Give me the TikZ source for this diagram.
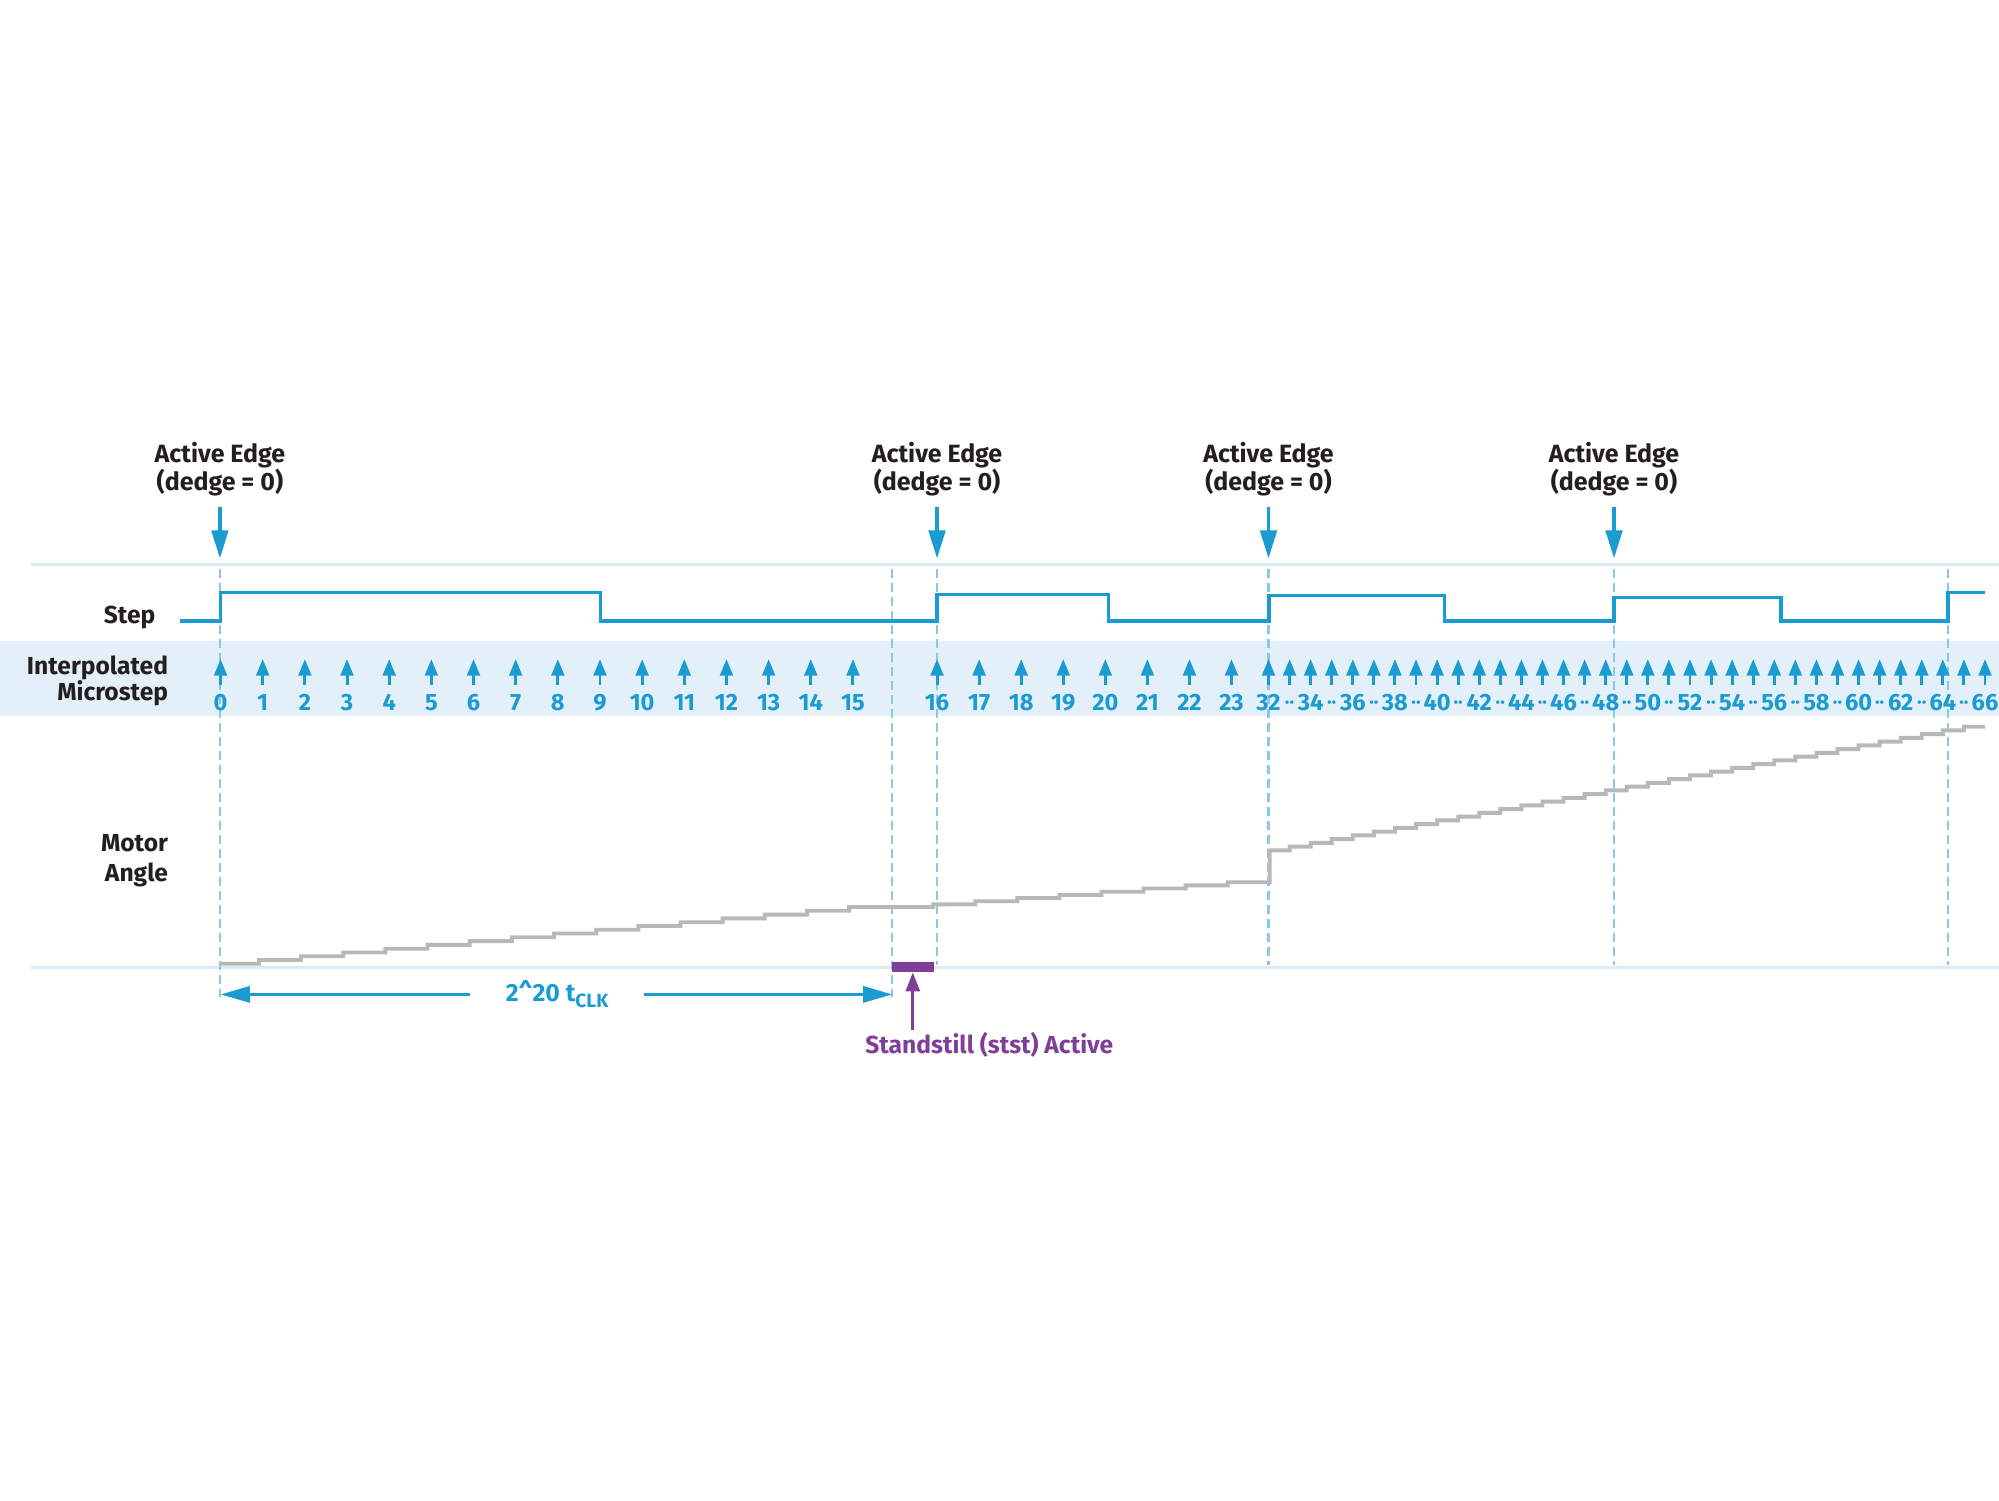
\documentclass[tikz,border=0pt]{standalone}
\usepackage{fontspec}
\setmainfont{Fira Sans}
\usetikzlibrary{arrows.meta}
\definecolor{wblue}{HTML}{1A9BD1}
\definecolor{sepc}{HTML}{DCEAF3}
\definecolor{bandc}{HTML}{E3EFF9}
\definecolor{dashc}{HTML}{8CC8E2}
\definecolor{stairc}{HTML}{B8B8B8}
\definecolor{purp}{HTML}{7F3F98}
\definecolor{txt}{HTML}{231F20}
\begin{document}
\begin{tikzpicture}[x=1pt,y=-1pt,
 txtlbl/.style={font=\fontsize{19.3}{20.5}\selectfont\bfseries, text=txt, inner sep=0pt},
 num/.style={font=\fontsize{18.5}{19}\selectfont\bfseries, text=wblue, inner sep=0pt, anchor=base},
 dotlbl/.style={font=\fontsize{15}{15}\selectfont\bfseries, text=wblue, inner sep=0pt, anchor=base},
 sep/.style={draw=sepc, line width=2pt},
 vdash/.style={draw=dashc, line width=1.6pt, dash pattern=on 7pt off 4pt},
 wave/.style={draw=wblue, line width=2.6pt, line join=miter},
 stair/.style={draw=stairc, line width=3pt},
 edgearrow/.style={draw=wblue, line width=2.6pt, -{Triangle[length=22pt,width=13pt]}},
 microarrow/.style={draw=wblue, line width=2.3pt, -{Triangle[length=13pt,width=10pt]}},
 timearrow/.style={draw=wblue, line width=2.6pt, -{Triangle[length=23pt,width=12.5pt]}},
 purparrow/.style={draw=purp, line width=2.4pt, -{Triangle[length=15pt,width=11pt]}},
]
\useasboundingbox (0,0) rectangle (1568,1177);
\fill[white] (0,0) rectangle (1568,1177);

% band and separators
\fill[bandc] (0,503) rectangle (1568,562);
\draw[sep] (24,443) -- (1568,443);
\draw[sep] (24,759) -- (1568,759);

% dashed guide lines
\draw[vdash] (172.5,446) -- (172.5,782);
\draw[vdash] (700,446) -- (700,782);
\foreach \xx in {735,995,1266,1528} {\draw[vdash] (\xx,446) -- (\xx,757);}

% row labels
\node[txtlbl, anchor=base east] (lstep) at (122,489) {Step};
\node[txtlbl, anchor=east, align=right] (lmicro) at (132,534) {Interpolated\\Microstep};
\node[txtlbl, anchor=east, align=right, font=\fontsize{19.3}{24}\selectfont\bfseries] (lmotor) at (132,675) {Motor\\Angle};

% active edge labels and arrows
\foreach \k/\xx in {1/172.5,2/735,3/995,4/1266} {
  \node[txtlbl, align=center, font=\fontsize{19.6}{19.5}\selectfont\bfseries] (ae\k) at (\xx,368) {Active Edge\\(dedge = 0)};
  \coordinate (at\k) at (\xx,438);
  \draw[edgearrow, shorten <=8pt] (ae\k.south) -- (at\k);
}

% step waveform
\draw[wave] (141,487) -- (173,487) -- (173,464.5) -- (471,464.5) -- (471,487) -- (735,487)
  -- (735,466.5) -- (869.5,466.5) -- (869.5,487) -- (995.5,487) -- (995.5,467) -- (1133,467)
  -- (1133,487) -- (1266,487) -- (1266,468.5) -- (1397,468.5) -- (1397,487) -- (1528,487)
  -- (1528,464.5) -- (1557,464.5);

% microstep arrows and numbers
\foreach \i in {0,...,15} {
  \pgfmathsetmacro\xx{173+33.07*\i}
  \draw[microarrow] (\xx,537) -- (\xx,517);
  \node[num] (m\i) at (\xx,557.5) {\i};
}
\foreach \i in {16,...,23} {
  \pgfmathsetmacro\xx{735+33*(\i-16)}
  \draw[microarrow] (\xx,537) -- (\xx,517);
  \node[num] (m\i) at (\xx,557.5) {\i};
}
\foreach \i in {32,...,66} {
  \pgfmathsetmacro\xx{995+16.53*(\i-32)}
  \draw[microarrow] (\xx,537) -- (\xx,517);
  \ifodd\i\relax
    \node[dotlbl] (m\i) at (\xx,555.5) {··};
  \else
    \node[num] (m\i) at (\xx,557.5) {\i};
  \fi
}

% motor angle staircase
\draw[stair] (173,756)
  \foreach \i in {1,...,15} { -- ({173+33.07*\i-3},{756-2.97*(\i-1)}) -- ({173+33.07*\i-3},{756-2.97*\i}) }
  -- (732,711.45) -- (732,709.4)
  \foreach \i in {17,...,23} { -- ({732+33*(\i-16)},{709.4-2.486*(\i-17)}) -- ({732+33*(\i-16)},{709.4-2.486*(\i-16)}) }
  -- (996,692) -- (996,667)
  \foreach \i in {33,...,65} { -- ({995+16.53*(\i-32)},{667-2.94*(\i-33)}) -- ({995+16.53*(\i-32)},{667-2.94*(\i-32)}) }
  -- (1557,570);

% standstill bar and arrow
\node[fill=purp, minimum width=33pt, minimum height=8pt, inner sep=0pt] (bar) at (716.5,758.5) {};
\node[font=\fontsize{19.3}{20}\selectfont\bfseries, text=purp, inner sep=0pt, anchor=base] (stst) at (776,826) {Standstill (stst) Active};
\coordinate (pst) at (716,808);
\draw[purparrow] (pst) -- (bar.south -| pst);

% 2^20 tCLK timing arrow
\node[font=\fontsize{19.5}{20}\selectfont\bfseries, text=wblue, inner sep=0pt, anchor=base] (clk) at (437,785.5)
  {2\textasciicircum20 t\raisebox{-5pt}{\fontsize{15}{15}\selectfont CLK}};
\coordinate (tl) at (173,780);
\coordinate (tr) at (700,780);
\draw[timearrow] ([xshift=-28pt]tl -| clk.west) -- (tl);
\draw[timearrow] ([xshift=28pt]tr -| clk.east) -- (tr);
\end{tikzpicture}
\end{document}
